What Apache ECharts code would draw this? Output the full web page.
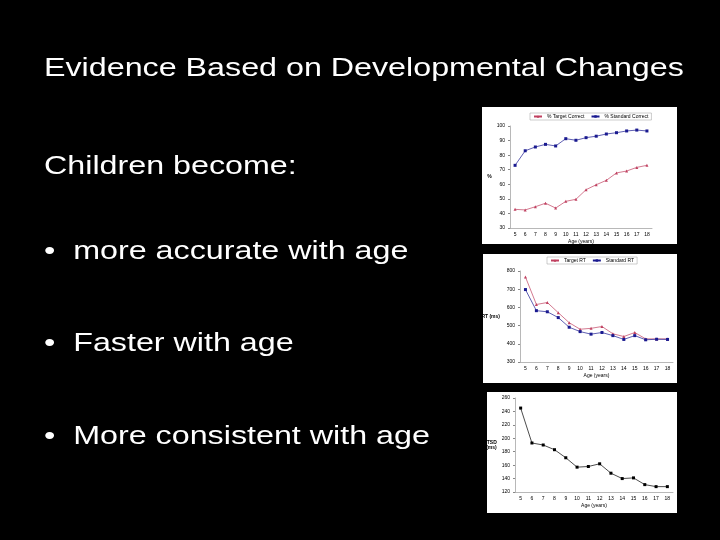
<!DOCTYPE html><html><head><meta charset="utf-8">
<script src="https://cdn.jsdelivr.net/npm/echarts@6/dist/echarts.min.js"></script>
<style>html,body{margin:0;background:#000}#c{width:720px;height:540px}</style></head><body><div id="c"></div>
<script>
const ages=['5','6','7','8','9','10','11','12','13','14','15','16','17','18'];
const targetCorrect=[42.8,42.4,44.6,47,43.7,48.3,49.7,56.3,59.7,62.7,67.8,69.1,71.6,73];
const standardCorrect=[73,83,85.6,87.4,86.3,91.3,90.2,92,93,94.5,95.4,96.6,97.2,96.6];
const targetRT=[767,616,627,571,516,480,485,495,455,440,462,427,427,427];
const standardRT=[698,582,576,544,491,467,453,462,445,424,445,422,425,424];
const rtsd=[245,193,190,183,171,157,158,162,148,140,141,131,128,128];
const textLines=[
 {t:'Evidence Based on Developmental Changes',y:70},
 {t:'Children become:',y:168},
 {t:'•  more accurate with age',y:253},
 {t:'•  Faster with age',y:345},
 {t:'•  More consistent with age',y:438}];
const F='Liberation Sans, Arial, sans-serif';
const red='#c04060',blue='#1a1a90';
const ax={fontSize:5,color:'#000',fontFamily:F};
function xa(i){return {type:'category',gridIndex:i,data:ages,axisTick:{show:false},axisLine:{lineStyle:{color:'#888',width:0.6}},axisLabel:{...ax,margin:4},name:'Age (years)',nameLocation:'middle',nameGap:11,nameTextStyle:ax};}
function ya(i,min,max,iv,name,gap){return {type:'value',gridIndex:i,min,max,interval:iv,splitLine:{show:false},axisLine:{show:true,lineStyle:{color:'#888',width:0.6}},axisTick:{show:true,length:2},axisLabel:{...ax,margin:5},name,nameLocation:'middle',nameRotate:0,nameGap:gap,nameTextStyle:{...ax,fontWeight:'bold'}};}
const ch=echarts.init(document.getElementById('c'));
const S=(n,d,x,c,sym)=>({name:n,type:'line',data:d,xAxisIndex:x,yAxisIndex:x,symbol:sym,symbolSize:3,itemStyle:{color:c},lineStyle:{color:c,width:0.7}});
ch.setOption({backgroundColor:'#000',animation:false,
graphic:[
 ...textLines.map(l=>({type:'text',x:44,y:l.y-14,scaleX:1.24,style:{text:l.t,fill:'#fff',font:'26px '+F}})),
 {type:'rect',shape:{x:482,y:107,width:195,height:137},style:{fill:'#fff'},z:-1},
 {type:'rect',shape:{x:483,y:254,width:194,height:129},style:{fill:'#fff'},z:-1},
 {type:'rect',shape:{x:487,y:392,width:190,height:121},style:{fill:'#fff'},z:-1}],
legend:[{data:['% Target Correct','% Standard Correct'],left:530,top:113,itemWidth:8,itemHeight:3,itemGap:6,textStyle:{...ax},borderColor:'#999',borderWidth:0.5,padding:[1,3]},
 {data:['Target RT','Standard RT'],left:547,top:257,itemWidth:8,itemHeight:3,itemGap:6,textStyle:{...ax},borderColor:'#999',borderWidth:0.5,padding:[1,3]}],
grid:[{left:510,top:126,width:142,height:102},{left:520,top:271,width:153,height:91},{left:515,top:398,width:158,height:94}],
xAxis:[xa(0),xa(1),xa(2)],
yAxis:[ya(0,30,100,10,'%',18),ya(1,300,800,100,'RT (ms)',20),ya(2,120,260,20,'RTSD\n(ms)',18)],
series:[S('% Target Correct',targetCorrect,0,red,'triangle'),S('% Standard Correct',standardCorrect,0,blue,'rect'),
 S('Target RT',targetRT,1,red,'triangle'),S('Standard RT',standardRT,1,blue,'rect'),
 S('RTSD',rtsd,2,'#000','rect')]});
</script></body></html>
